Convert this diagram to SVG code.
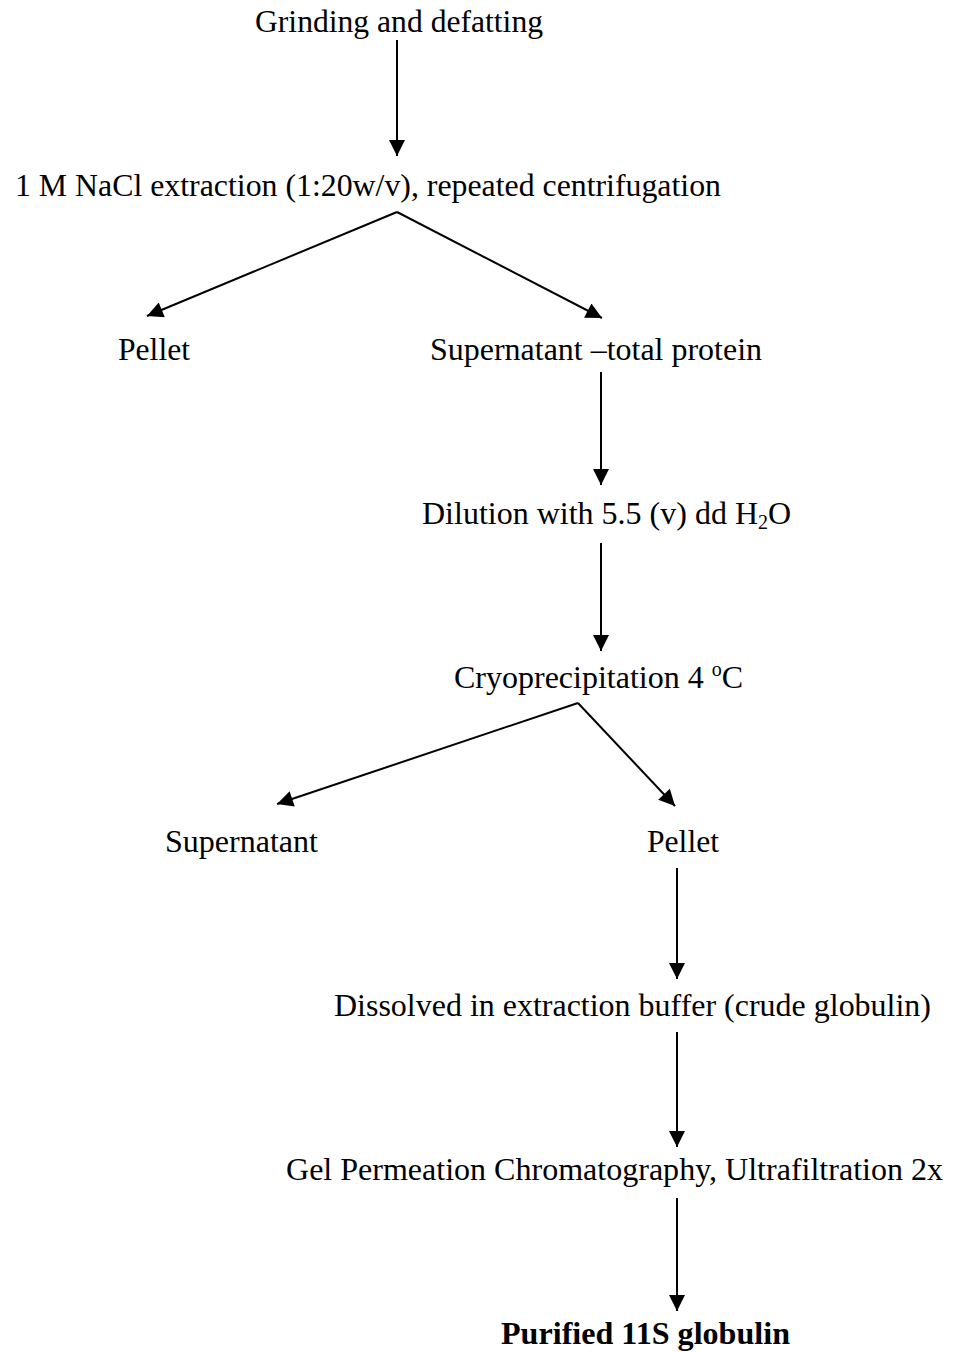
<svg xmlns="http://www.w3.org/2000/svg" width="956" height="1352" viewBox="0 0 956 1352">
<style>
text{font-family:"Liberation Serif","Times New Roman",serif;font-size:32px;fill:#000}
.b{font-weight:bold}
.c{stroke:#000;stroke-width:2;fill:none;marker-end:url(#ah)}
</style>
<defs>
<marker id="ah" viewBox="0 0 10 10" refX="10" refY="5" markerWidth="9" markerHeight="8" markerUnits="strokeWidth" orient="auto">
<path d="M0,0 L10,5 L0,10 Z" fill="#000"/>
</marker>
</defs>
<rect width="956" height="1352" fill="#fff"/>
<g id="connectors">
<line class="c" x1="397" y1="40" x2="397" y2="156"/>
<line class="c" x1="397" y1="212" x2="147" y2="316"/>
<line class="c" x1="397" y1="212" x2="602" y2="318"/>
<line class="c" x1="601" y1="372" x2="601" y2="485"/>
<line class="c" x1="601" y1="543" x2="601" y2="651"/>
<line class="c" x1="578" y1="703" x2="277" y2="804"/>
<line class="c" x1="578" y1="703" x2="675" y2="806"/>
<line class="c" x1="677" y1="868" x2="677" y2="979"/>
<line class="c" x1="677" y1="1032" x2="677" y2="1147"/>
<line class="c" x1="677" y1="1198" x2="677" y2="1311"/>
</g>
<g id="n1"><text x="255" y="32" textLength="288" lengthAdjust="spacingAndGlyphs">Grinding and defatting</text></g>
<g id="n2"><text x="15" y="196" textLength="706" lengthAdjust="spacingAndGlyphs">1 M NaCl extraction (1:20w/v), repeated centrifugation</text></g>
<g id="n3"><text x="118" y="360" textLength="72" lengthAdjust="spacingAndGlyphs">Pellet</text></g>
<g id="n4"><text x="430" y="360" textLength="332" lengthAdjust="spacingAndGlyphs">Supernatant –total protein</text></g>
<g id="n5"><text x="422" y="524">Dilution with 5.5 (v) dd H<tspan font-size="20" dy="5">2</tspan><tspan dy="-5">O</tspan></text></g>
<g id="n6"><text x="454" y="688">Cryoprecipitation 4 <tspan font-size="20" dy="-12">o</tspan><tspan dy="12">C</tspan></text></g>
<g id="n7"><text x="165" y="852" textLength="153" lengthAdjust="spacingAndGlyphs">Supernatant</text></g>
<g id="n8"><text x="647" y="852" textLength="72" lengthAdjust="spacingAndGlyphs">Pellet</text></g>
<g id="n9"><text x="334" y="1016" textLength="597" lengthAdjust="spacingAndGlyphs">Dissolved in extraction buffer (crude globulin)</text></g>
<g id="n10"><text x="286" y="1180" textLength="657" lengthAdjust="spacingAndGlyphs">Gel Permeation Chromatography, Ultrafiltration 2x</text></g>
<g id="n11"><text class="b" x="501" y="1344" textLength="289" lengthAdjust="spacingAndGlyphs">Purified 11S globulin</text></g>
</svg>
